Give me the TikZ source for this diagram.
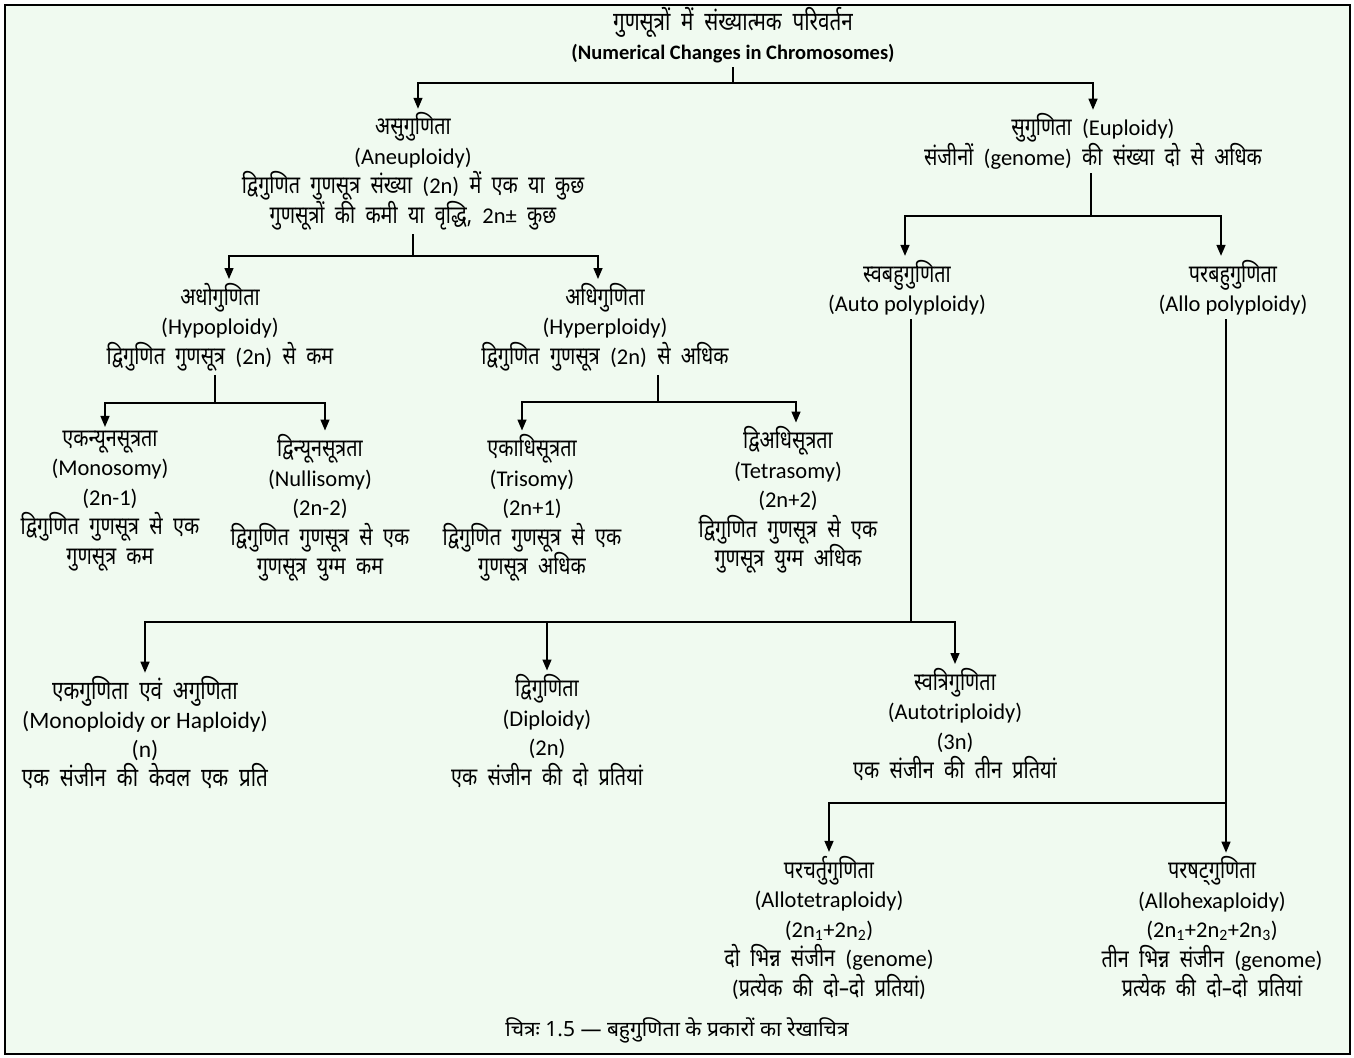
\documentclass[tikz,border=0pt]{standalone}
\usepackage{fontspec}
\setmainfont{Carlito}
\newfontfamily\hi[Script=Devanagari,Scale=1.1,FakeStretch=0.80,WordSpace=2.0]{Noto Sans}
\newfontfamily\capfont[Script=Devanagari]{Noto Sans}
\usetikzlibrary{arrows.meta,calc}
\newcommand{\dev}[1]{{\hi #1}}
\definecolor{bg}{RGB}{240,250,240}
\begin{document}
\begin{tikzpicture}[x=1pt,y=-1pt,
  txt/.style={align=center,font=\fontsize{22.5}{29.5}\selectfont,inner sep=0pt,outer ysep=4pt},
  conn/.style={line width=1.4pt},
  arr/.style={conn,-{Triangle[width=9pt,length=11pt]}}]
\useasboundingbox (0,0) rectangle (1354,1057);
\fill[white] (0,0) rectangle (1354,1057);
\draw[line width=2.5pt,fill=bg] (5,5) rectangle (1350,1054);

\node[txt,font=\bfseries\fontsize{20.5}{29.5}\selectfont] (title) at (733,35) {{\fontsize{23.5}{29.5}\selectfont\dev{गुणसूत्रों में संख्यात्मक परिवर्तन}}\\(Numerical Changes in Chromosomes)};
\node[txt] (aneu) at (413,171.5) {\dev{असुगुणिता}\\(Aneuploidy)\\\dev{द्विगुणित गुणसूत्र संख्या }(2n)\dev{ में एक या कुछ}\\\dev{गुणसूत्रों की कमी या वृद्धि, }2n±\dev{ कुछ}};
\node[txt] (eu) at (1093,141.5) {\dev{सुगुणिता }(Euploidy)\\\dev{संजीनों }(genome)\dev{ की संख्या दो से अधिक}};
\node[txt] (auto) at (907,287.5) {\dev{स्वबहुगुणिता}\\(Auto polyploidy)};
\node[txt] (allo) at (1233,287.5) {\dev{परबहुगुणिता}\\(Allo polyploidy)};
\node[txt] (hypo) at (220,327) {\dev{अधोगुणिता}\\(Hypoploidy)\\\dev{द्विगुणित गुणसूत्र }(2n)\dev{ से कम}};
\node[txt] (hyper) at (605,327) {\dev{अधिगुणिता}\\(Hyperploidy)\\\dev{द्विगुणित गुणसूत्र }(2n)\dev{ से अधिक}};
\node[txt] (mono) at (110,501) {\dev{एकन्यूनसूत्रता}\\(Monosomy)\\(2n-1)\\\dev{द्विगुणित गुणसूत्र से एक}\\\dev{गुणसूत्र कम}};
\node[txt] (nulli) at (320,508) {\dev{द्विन्यूनसूत्रता}\\(Nullisomy)\\(2n-2)\\\dev{द्विगुणित गुणसूत्र से एक}\\\dev{गुणसूत्र युग्म कम}};
\node[txt] (tri) at (532,508) {\dev{एकाधिसूत्रता}\\(Trisomy)\\(2n+1)\\\dev{द्विगुणित गुणसूत्र से एक}\\\dev{गुणसूत्र अधिक}};
\node[txt] (tetra) at (788,500) {\dev{द्विअधिसूत्रता}\\(Tetrasomy)\\(2n+2)\\\dev{द्विगुणित गुणसूत्र से एक}\\\dev{गुणसूत्र युग्म अधिक}};
\node[txt,font=\fontsize{23.5}{29}\selectfont] (monop) at (145,733) {\dev{एकगुणिता एवं अगुणिता}\\(Monoploidy or Haploidy)\\(n)\\\dev{एक संजीन की केवल एक प्रति}};
\node[txt] (dip) at (547,731) {\dev{द्विगुणिता}\\(Diploidy)\\(2n)\\\dev{एक संजीन की दो प्रतियां}};
\node[txt] (atri) at (955,724.5) {\dev{स्वत्रिगुणिता}\\(Autotriploidy)\\(3n)\\\dev{एक संजीन की तीन प्रतियां}};
\node[txt] (atetra) at (829,927.5) {\dev{परचर्तुगुणिता}\\(Allotetraploidy)\\(2n\textsubscript{1}+2n\textsubscript{2})\\\dev{दो भिन्न संजीन }(genome)\\(\dev{प्रत्येक की दो–दो प्रतियां})};
\node[txt] (ahexa) at (1212,927.5) {\dev{परषट्गुणिता}\\(Allohexaploidy)\\(2n\textsubscript{1}+2n\textsubscript{2}+2n\textsubscript{3})\\\dev{तीन भिन्न संजीन }(genome)\\\dev{प्रत्येक की दो–दो प्रतियां}};
\node[txt,font=\capfont\fontsize{21}{24}\selectfont] (cap) at (677,1030) {चित्रः 1.5 — बहुगुणिता के प्रकारों का रेखाचित्र};

\coordinate (jt) at (733,83);
\draw[conn] (title.south) -- (jt);
\draw[arr] (jt) -| ($(aneu.north)+(5,0)$);
\draw[arr] (jt) -| (eu.north);

\coordinate (je) at (1091,216);
\draw[conn] (eu.south -| je) -- (je);
\draw[arr] (je) -| ($(auto.north)+(-2,0)$);
\draw[arr] (je) -| ($(allo.north)+(-12,0)$);

\coordinate (ja) at (413,256);
\draw[conn] (aneu.south) -- (ja);
\draw[arr] (ja) -| ($(hypo.north)+(9,0)$);
\draw[arr] (ja) -| ($(hyper.north)+(-7,0)$);

\coordinate (jh) at (215,403);
\draw[conn] (hypo.south -| jh) -- (jh);
\draw[arr] (jh) -| ($(mono.north)+(-5,0)$);
\draw[arr] (jh) -| ($(nulli.north)+(5,0)$);

\coordinate (jr) at (658,402);
\draw[conn] (hyper.south -| jr) -- (jr);
\draw[arr] (jr) -| ($(tri.north)+(-10,0)$);
\draw[arr] (jr) -| ($(tetra.north)+(8,0)$);

\coordinate (jau) at (911,622);
\draw[conn] (auto.south -| jau) -- (jau);
\draw[arr] (jau) -| (monop.north);
\draw[arr] (jau) -| (dip.north);
\draw[arr] (jau) -| (atri.north);

\coordinate (jal) at (1226,803);
\draw[conn] (allo.south -| jal) -- (jal);
\draw[arr] (jal) -| ($(atetra.north)+(0,0)$);
\draw[arr] (jal) -| ($(ahexa.north)+(14,0)$);
\end{tikzpicture}
\end{document}
